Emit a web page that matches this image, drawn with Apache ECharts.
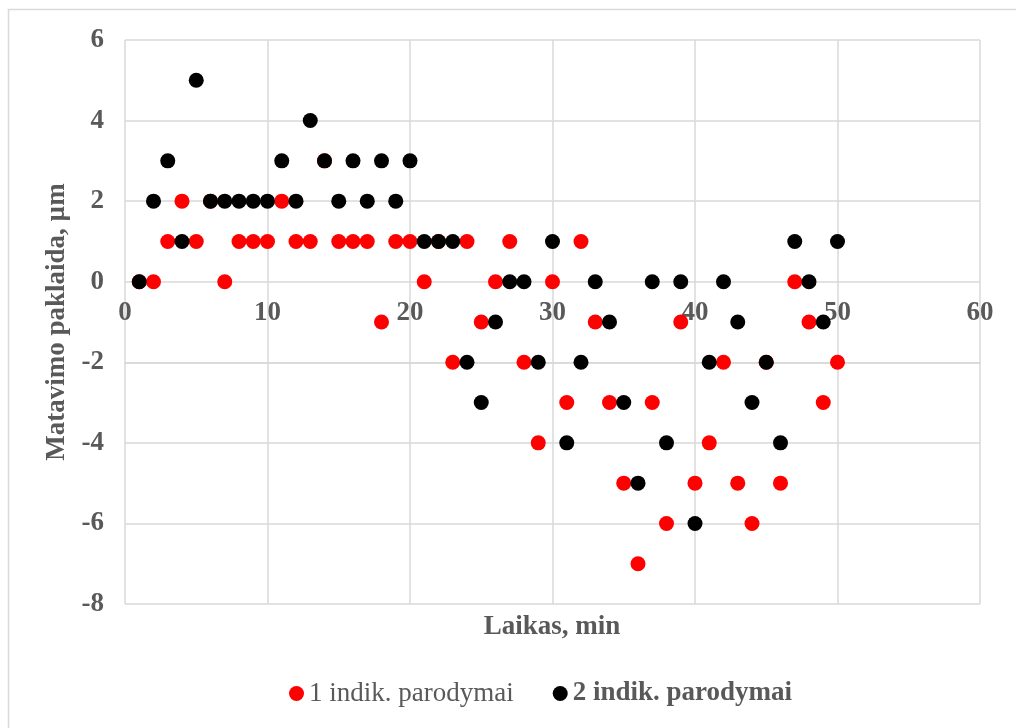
<!DOCTYPE html>
<html>
<head>
<meta charset="utf-8">
<script src="https://cdn.jsdelivr.net/npm/echarts@6/dist/echarts.min.js"></script>
<style>
  html, body { margin: 0; padding: 0; background: #fff; }
  #chart { width: 1016px; height: 728px; }
</style>
</head>
<body>
<div id="chart"></div>
<script>
// Measurement time, minutes
const minutes = [1,2,3,4,5,6,7,8,9,10,11,12,13,14,15,16,17,18,19,20,21,22,23,24,25,
  26,27,28,29,30,31,32,33,34,35,36,37,38,39,40,41,42,43,44,45,46,47,48,49,50];
// Indicator 1 readings, µm
const indicator1 = [0,0,1,2,1,2,0,1,1,1,2,1,1,3,1,1,1,-1,1,1,0,1,-2,1,-1,
  0,1,-2,-4,0,-3,1,-1,-3,-5,-7,-3,-6,-1,-5,-4,-2,-5,-6,-2,-5,0,-1,-3,-2];
// Indicator 2 readings, µm
const indicator2 = [0,2,3,1,5,2,2,2,2,2,3,2,4,3,2,3,2,3,2,3,1,1,1,-2,-3,
  -1,0,0,-2,1,-4,-2,0,-1,-3,-5,0,-4,0,-6,-2,0,-1,-3,-2,-4,1,0,-1,1];
const seriesNames = ['1 indik. parodymai', '2 indik. parodymai'];
const xTitle = 'Laikas, min';
const yTitle = 'Matavimo paklaida, µm';

const pairs = (ys) => minutes.map((m, i) => [m, ys[i]]);
const gridColor = '#d9d9d9';
const labelColor = '#595959';
const serif = '"Liberation Serif", "DejaVu Serif", serif';
const fontSize = 27;

const chart = echarts.init(document.getElementById('chart'));
chart.setOption({
  animation: false,
  backgroundColor: '#fff',
  grid: { left: 125, right: 36, top: 40, bottom: 124 },
  xAxis: {
    type: 'value', min: 0, max: 60, interval: 10,
    axisLine: { show: true, onZero: true, lineStyle: { color: gridColor, width: 1.5 } },
    axisTick: { show: false },
    splitLine: { show: true, lineStyle: { color: gridColor, width: 1.5 } },
    axisLabel: { color: labelColor, fontFamily: serif, fontWeight: 'bold', fontSize: fontSize, margin: 18 }
  },
  yAxis: {
    type: 'value', min: -8, max: 6, interval: 2,
    name: yTitle, nameLocation: 'middle', nameRotate: 90, nameGap: 49,
    nameTextStyle: { color: labelColor, fontFamily: serif, fontWeight: 'bold', fontSize: fontSize },
    axisLine: { show: false },
    axisTick: { show: false },
    splitLine: { show: true, lineStyle: { color: gridColor, width: 1.5 } },
    axisLabel: { color: labelColor, fontFamily: serif, fontWeight: 'bold', fontSize: fontSize, margin: 21 }
  },
  legend: {
    left: 284, top: 675, itemGap: 39, itemWidth: 15, itemHeight: 15,
    textStyle: { color: labelColor, fontFamily: serif, fontSize: fontSize },
    data: [
      { name: seriesNames[0], icon: 'circle', textStyle: { fontWeight: 'normal' } },
      { name: seriesNames[1], icon: 'circle', textStyle: { fontWeight: 'bold' } }
    ]
  },
  graphic: [
    {
      type: 'rect', silent: true, z: -1,
      shape: { x: 8.5, y: 9.5, width: 1040, height: 760 },
      style: { fill: 'none', stroke: gridColor, lineWidth: 1.5 }
    },
    {
      type: 'text', silent: true, x: 552, y: 627,
      style: {
        text: xTitle, fill: labelColor,
        font: 'bold ' + fontSize + 'px ' + serif,
        textAlign: 'center', textVerticalAlign: 'middle'
      }
    }
  ],
  series: [
    {
      name: seriesNames[0], type: 'scatter', data: pairs(indicator1),
      symbol: 'circle', symbolSize: 15, itemStyle: { color: '#ff0000', opacity: 1 }
    },
    {
      name: seriesNames[1], type: 'scatter', data: pairs(indicator2),
      symbol: 'circle', symbolSize: 15, itemStyle: { color: '#000000', opacity: 1 }
    }
  ]
});

// Lift the time axis (line and labels) up to where the error is zero
const zeroY = chart.convertToPixel({ yAxisIndex: 0 }, 0);
const bottomY = chart.convertToPixel({ yAxisIndex: 0 }, -8);
chart.setOption({ xAxis: { offset: -(bottomY - zeroY) } });
</script>
</body>
</html>
